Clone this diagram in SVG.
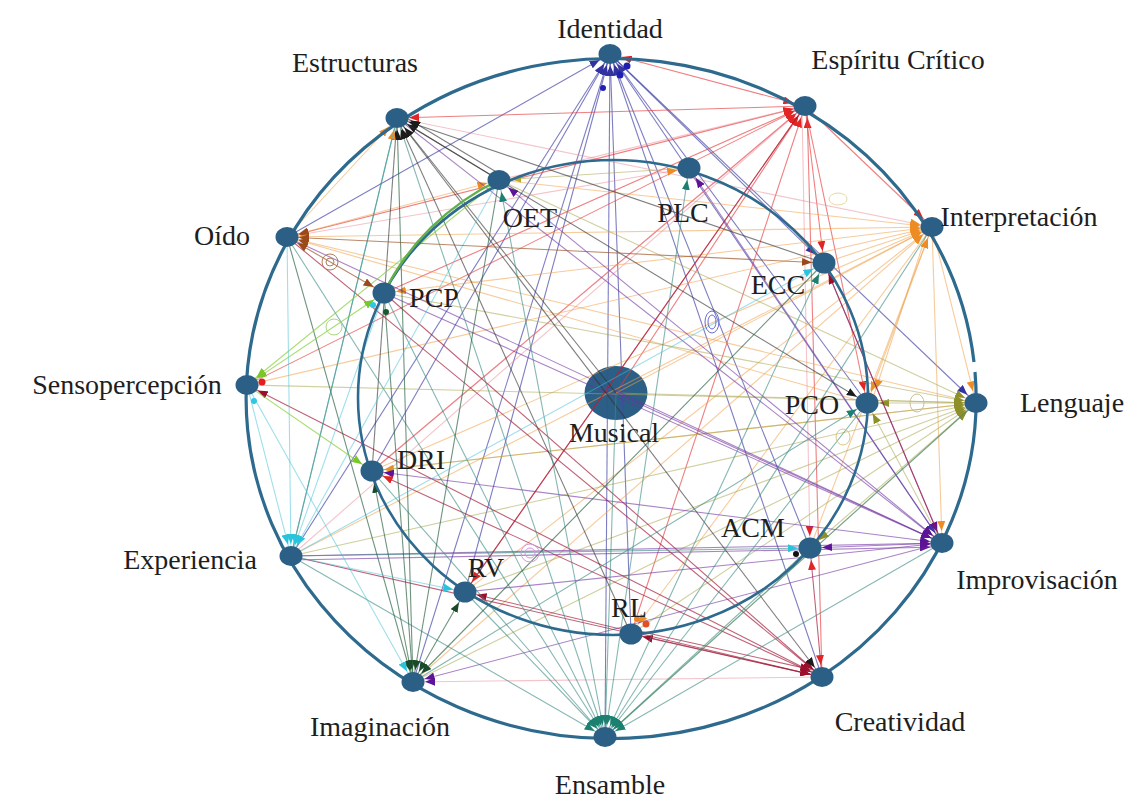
<svg xmlns="http://www.w3.org/2000/svg" width="1130" height="799" viewBox="0 0 1130 799">
<style>
.lbl{font-family:"Liberation Serif","Times New Roman",serif;font-size:28px;fill:#1e1e1e;text-anchor:middle}
.nd{fill:#2b5f86}
.ring{fill:none;stroke:#2d6a8e;stroke-width:3.2}
.iring{fill:none;stroke:#2d6a8e;stroke-width:2.6}
.b{stroke:#4646a8;stroke-opacity:.7}
.r{stroke:#e63a3c;stroke-opacity:.65}
.pk{stroke:#ec8a96;stroke-opacity:.5}
.o{stroke:#f0a048;stroke-opacity:.55}
.ol{stroke:#aaa850;stroke-opacity:.55}
.p{stroke:#7030a0;stroke-opacity:.6}
.dr{stroke:#a01838;stroke-opacity:.68}
.t{stroke:#3a8a82;stroke-opacity:.62}
.dg{stroke:#2a6040;stroke-opacity:.68}
.c{stroke:#40c0d8;stroke-opacity:.5}
.g{stroke:#88d040;stroke-opacity:.75}
.br{stroke:#a05a30;stroke-opacity:.72}
.k{stroke:#303030;stroke-opacity:.62}
.loop{fill:none;stroke-width:1}
</style>
<defs>
<marker id="mb" markerUnits="userSpaceOnUse" markerWidth="30" markerHeight="8" viewBox="0 0 30 8" refX="22" refY="4" orient="auto-start-reverse"><path d="M0,0 L10,4 L0,8 z" fill="#3232a0"/></marker>
<marker id="mr" markerUnits="userSpaceOnUse" markerWidth="30" markerHeight="8" viewBox="0 0 30 8" refX="22" refY="4" orient="auto-start-reverse"><path d="M0,0 L10,4 L0,8 z" fill="#e22424"/></marker>
<marker id="mo" markerUnits="userSpaceOnUse" markerWidth="30" markerHeight="8" viewBox="0 0 30 8" refX="22" refY="4" orient="auto-start-reverse"><path d="M0,0 L10,4 L0,8 z" fill="#ee8c24"/></marker>
<marker id="mol" markerUnits="userSpaceOnUse" markerWidth="30" markerHeight="8" viewBox="0 0 30 8" refX="22" refY="4" orient="auto-start-reverse"><path d="M0,0 L10,4 L0,8 z" fill="#8f8f2a"/></marker>
<marker id="mp" markerUnits="userSpaceOnUse" markerWidth="30" markerHeight="8" viewBox="0 0 30 8" refX="22" refY="4" orient="auto-start-reverse"><path d="M0,0 L10,4 L0,8 z" fill="#5e1496"/></marker>
<marker id="mdr" markerUnits="userSpaceOnUse" markerWidth="30" markerHeight="8" viewBox="0 0 30 8" refX="22" refY="4" orient="auto-start-reverse"><path d="M0,0 L10,4 L0,8 z" fill="#9c0e2c"/></marker>
<marker id="mt" markerUnits="userSpaceOnUse" markerWidth="30" markerHeight="8" viewBox="0 0 30 8" refX="22" refY="4" orient="auto-start-reverse"><path d="M0,0 L10,4 L0,8 z" fill="#1c8070"/></marker>
<marker id="mdg" markerUnits="userSpaceOnUse" markerWidth="30" markerHeight="8" viewBox="0 0 30 8" refX="22" refY="4" orient="auto-start-reverse"><path d="M0,0 L10,4 L0,8 z" fill="#1a4a2a"/></marker>
<marker id="mc" markerUnits="userSpaceOnUse" markerWidth="30" markerHeight="8" viewBox="0 0 30 8" refX="22" refY="4" orient="auto-start-reverse"><path d="M0,0 L10,4 L0,8 z" fill="#28c4dc"/></marker>
<marker id="mg" markerUnits="userSpaceOnUse" markerWidth="30" markerHeight="8" viewBox="0 0 30 8" refX="22" refY="4" orient="auto-start-reverse"><path d="M0,0 L10,4 L0,8 z" fill="#78c828"/></marker>
<marker id="mbr" markerUnits="userSpaceOnUse" markerWidth="30" markerHeight="8" viewBox="0 0 30 8" refX="22" refY="4" orient="auto-start-reverse"><path d="M0,0 L10,4 L0,8 z" fill="#9a4a1a"/></marker>
<marker id="mk" markerUnits="userSpaceOnUse" markerWidth="30" markerHeight="8" viewBox="0 0 30 8" refX="22" refY="4" orient="auto-start-reverse"><path d="M0,0 L10,4 L0,8 z" fill="#1c1c1c"/></marker>
<marker id="my" markerUnits="userSpaceOnUse" markerWidth="30" markerHeight="8" viewBox="0 0 30 8" refX="22" refY="4" orient="auto-start-reverse"><path d="M0,0 L10,4 L0,8 z" fill="#c0a830"/></marker>
</defs>
<rect width="1130" height="799" fill="#ffffff"/>

<g id="node-Musical"><ellipse class="nd" cx="616" cy="393" rx="31.5" ry="27"/></g>

<g id="connectors" fill="none" stroke-width="1.1">
<g class="b" marker-end="url(#mb)">
<line x1="287" y1="237" x2="610" y2="54"/>
<line x1="372" y1="471" x2="610" y2="54"/>
<line x1="413" y1="682" x2="610" y2="54"/>
<line x1="631" y1="634" x2="610" y2="54"/>
<line x1="605" y1="737" x2="610" y2="54"/>
<line x1="822" y1="677" x2="610" y2="54"/>
<line x1="810" y1="548" x2="610" y2="54"/>
<line x1="291" y1="556" x2="610" y2="54"/>
<line x1="867" y1="403" x2="610" y2="54"/>
<line x1="610" y1="54" x2="824" y2="263"/>
<line x1="610" y1="54" x2="976" y2="403"/>
<line x1="610" y1="54" x2="942" y2="543"/>
<line x1="465" y1="592" x2="610" y2="54"/>
</g>
<g class="r" marker-end="url(#mr)">
<line x1="805" y1="106" x2="610" y2="54" marker-start="url(#mr)"/>
<line x1="287" y1="237" x2="805" y2="106"/>
<line x1="384" y1="293" x2="805" y2="106"/>
<line x1="247" y1="385" x2="805" y2="106"/>
<line x1="372" y1="471" x2="805" y2="106"/>
<line x1="465" y1="592" x2="805" y2="106"/>
<line x1="631" y1="634" x2="805" y2="106"/>
<line x1="822" y1="677" x2="807" y2="106"/>
<line x1="616" y1="393" x2="805" y2="106"/>
<line x1="805" y1="106" x2="397" y2="118"/>
<line x1="805" y1="106" x2="824" y2="263"/>
<line x1="805" y1="106" x2="932" y2="227"/>
<line x1="805" y1="106" x2="867" y2="403"/>
</g>
<g class="pk" marker-end="url(#mr)">
<line x1="291" y1="556" x2="805" y2="106"/>
<line x1="499" y1="180" x2="805" y2="106"/>
<line x1="802" y1="106" x2="810" y2="548"/>
<line x1="397" y1="118" x2="932" y2="227" marker-end="url(#mo)"/>
<line x1="689" y1="168" x2="287" y2="237" marker-start="url(#mo)" marker-end="url(#mbr)"/>
<line x1="372" y1="471" x2="805" y2="106"/>
</g>
<g class="o" marker-end="url(#mo)">
<line x1="287" y1="237" x2="932" y2="227" marker-start="url(#mo)"/>
<line x1="384" y1="293" x2="932" y2="227" marker-start="url(#mo)"/>
<line x1="247" y1="385" x2="932" y2="227"/>
<line x1="291" y1="556" x2="932" y2="227"/>
<line x1="372" y1="471" x2="932" y2="227"/>
<line x1="499" y1="180" x2="932" y2="227"/>
<line x1="824" y1="263" x2="932" y2="227"/>
<line x1="932" y1="227" x2="867" y2="403" marker-start="url(#mo)"/>
<line x1="928" y1="229" x2="872" y2="401"/>
<line x1="932" y1="227" x2="942" y2="543"/>
<line x1="932" y1="227" x2="976" y2="403"/>
<line x1="465" y1="592" x2="932" y2="227"/>
<line x1="616" y1="393" x2="932" y2="227"/>
<line x1="413" y1="682" x2="932" y2="227"/>
<line x1="810" y1="548" x2="932" y2="227"/>
<line x1="932" y1="227" x2="631" y2="634"/>
<line x1="867" y1="403" x2="287" y2="237" marker-end="url(#mbr)"/>
<line x1="976" y1="403" x2="287" y2="237" marker-end="url(#mbr)"/>
<line x1="287" y1="237" x2="499" y2="180" marker-start="url(#mbr)"/>
<line x1="287" y1="237" x2="397" y2="118"/>
<line x1="976" y1="403" x2="372" y2="471"/>
</g>
<g class="ol" marker-end="url(#mol)">
<line x1="976" y1="403" x2="867" y2="403"/>
<line x1="291" y1="556" x2="976" y2="403"/>
<line x1="372" y1="471" x2="976" y2="403"/>
<line x1="465" y1="592" x2="976" y2="403"/>
<line x1="631" y1="634" x2="976" y2="403"/>
<line x1="810" y1="548" x2="976" y2="403" marker-start="url(#mol)"/>
<line x1="605" y1="737" x2="976" y2="403"/>
<line x1="413" y1="682" x2="976" y2="403"/>
<line x1="384" y1="293" x2="976" y2="403"/>
<line x1="247" y1="385" x2="976" y2="403"/>
<line x1="616" y1="393" x2="976" y2="403"/>
<line x1="499" y1="180" x2="976" y2="403"/>
<line x1="689" y1="168" x2="499" y2="180" marker-end="url(#my)"/>
<line x1="942" y1="543" x2="867" y2="403" marker-end="url(#mol)"/>
</g>
<g class="p" marker-end="url(#mp)">
<line x1="291" y1="556" x2="942" y2="543"/>
<line x1="291" y1="560" x2="942" y2="547"/>
<line x1="384" y1="293" x2="942" y2="543"/>
<line x1="824" y1="263" x2="942" y2="543"/>
<line x1="372" y1="471" x2="942" y2="543" marker-start="url(#mp)"/>
<line x1="616" y1="393" x2="942" y2="543"/>
<line x1="810" y1="548" x2="942" y2="543" marker-start="url(#mp)"/>
<line x1="499" y1="180" x2="942" y2="543" marker-start="url(#mp)"/>
<line x1="287" y1="237" x2="942" y2="543"/>
<line x1="465" y1="592" x2="942" y2="543"/>
<line x1="942" y1="543" x2="689" y2="168"/>
<line x1="397" y1="118" x2="942" y2="543"/>
<line x1="942" y1="543" x2="413" y2="682"/>
</g>
<g class="dr" marker-end="url(#mdr)">
<line x1="631" y1="634" x2="822" y2="677" marker-start="url(#mdr)"/>
<line x1="634" y1="630" x2="822" y2="672"/>
<line x1="465" y1="592" x2="822" y2="677" marker-start="url(#mdr)"/>
<line x1="372" y1="471" x2="822" y2="677" marker-start="url(#mr)"/>
<line x1="291" y1="556" x2="822" y2="677"/>
<line x1="810" y1="548" x2="822" y2="677" marker-start="url(#mr)" marker-end="url(#mr)"/>
<line x1="384" y1="293" x2="822" y2="677"/>
<line x1="287" y1="237" x2="822" y2="677"/>
<line x1="822" y1="677" x2="247" y2="385"/>
<line x1="942" y1="543" x2="824" y2="263"/>
<line x1="805" y1="106" x2="465" y2="592" marker-end="url(#mr)"/>
</g>
<g class="pk" marker-end="url(#mp)">
<line x1="822" y1="677" x2="413" y2="682"/>
</g>
<g class="k" marker-end="url(#mk)">
<line x1="397" y1="118" x2="822" y2="677"/>
<line x1="499" y1="180" x2="397" y2="118"/>
<line x1="503" y1="176" x2="400" y2="114"/>
<line x1="631" y1="634" x2="397" y2="118"/>
<line x1="824" y1="263" x2="397" y2="118"/>
<line x1="372" y1="471" x2="397" y2="118"/>
<line x1="397" y1="118" x2="867" y2="403"/>
<line x1="616" y1="393" x2="397" y2="118"/>
</g>
<g class="t" marker-end="url(#mt)">
<line x1="397" y1="118" x2="605" y2="737" marker-start="url(#mk)"/>
<line x1="287" y1="237" x2="605" y2="737"/>
<line x1="499" y1="180" x2="605" y2="737" marker-start="url(#mt)"/>
<line x1="384" y1="293" x2="605" y2="737"/>
<line x1="372" y1="471" x2="605" y2="737"/>
<line x1="465" y1="592" x2="605" y2="737"/>
<line x1="291" y1="556" x2="605" y2="737"/>
<line x1="824" y1="263" x2="605" y2="737" marker-start="url(#mt)"/>
<line x1="689" y1="168" x2="605" y2="737" marker-start="url(#mt)"/>
<line x1="867" y1="403" x2="605" y2="737"/>
<line x1="810" y1="548" x2="605" y2="737"/>
<line x1="932" y1="227" x2="605" y2="737"/>
<line x1="616" y1="393" x2="605" y2="737"/>
<line x1="942" y1="543" x2="605" y2="737"/>
<line x1="976" y1="403" x2="605" y2="737"/>
<line x1="413" y1="682" x2="867" y2="403"/>
<line x1="291" y1="556" x2="810" y2="548" marker-end="url(#mc)"/>
</g>
<g class="dg" marker-end="url(#mdg)">
<line x1="372" y1="471" x2="413" y2="682" marker-start="url(#mdg)"/>
<line x1="465" y1="592" x2="413" y2="682" marker-start="url(#mdg)"/>
<line x1="287" y1="237" x2="413" y2="682"/>
<line x1="384" y1="293" x2="413" y2="682"/>
<line x1="499" y1="180" x2="413" y2="682"/>
<line x1="413" y1="682" x2="397" y2="118" marker-end="url(#mk)"/>
<line x1="824" y1="263" x2="413" y2="682"/>
<line x1="291" y1="556" x2="397" y2="118" marker-end="url(#mo)"/>
</g>
<g class="c" marker-end="url(#mc)">
<line x1="247" y1="385" x2="291" y2="556"/>
<line x1="287" y1="237" x2="291" y2="556"/>
<line x1="397" y1="118" x2="291" y2="556"/>
<line x1="499" y1="180" x2="291" y2="556"/>
<line x1="384" y1="293" x2="291" y2="556"/>
<line x1="291" y1="556" x2="465" y2="592"/>
<line x1="291" y1="556" x2="824" y2="263"/>
<line x1="247" y1="385" x2="413" y2="682"/>
</g>
<g class="g" marker-end="url(#mg)">
<line x1="247" y1="385" x2="384" y2="293" marker-start="url(#mg)"/>
<line x1="499" y1="180" x2="247" y2="385"/>
<line x1="247" y1="385" x2="372" y2="471"/>
</g>
<g class="br" marker-end="url(#mbr)">
<line x1="287" y1="237" x2="384" y2="293" marker-start="url(#mbr)"/>
<line x1="287" y1="237" x2="824" y2="263" marker-start="url(#mbr)"/>
</g>
<g class="loop">
<circle cx="330" cy="262" r="8" stroke="#b0805a"/>
<circle cx="330" cy="262" r="4" stroke="#b0805a"/>
<circle cx="334" cy="327" r="8" stroke="#a8d880"/>
<ellipse cx="712" cy="322" rx="7" ry="11" stroke="#6a6ad0"/>
<ellipse cx="712" cy="322" rx="4" ry="7" stroke="#6a6ad0"/>
<circle cx="530" cy="553" r="9" stroke="#d098d8"/>
<circle cx="530" cy="553" r="5" stroke="#d098d8"/>
<ellipse cx="917" cy="403" rx="7" ry="9" stroke="#c8c090"/>
<ellipse cx="843" cy="437" rx="7" ry="8" stroke="#d8c888"/>
<ellipse cx="838" cy="199" rx="9" ry="6" stroke="#e8d8a0"/>
</g>
<g stroke="none">
<circle cx="627" cy="66" r="3.5" fill="#2020b0"/>
<circle cx="620" cy="75" r="3.5" fill="#2020b0"/>
<circle cx="603" cy="88" r="3" fill="#2020b0"/>
<circle cx="386" cy="312" r="3" fill="#145a30"/>
<circle cx="373" cy="305" r="3" fill="#30c8e0"/>
<circle cx="262" cy="382" r="3.5" fill="#e02020"/>
<circle cx="254" cy="401" r="3" fill="#30c8e0"/>
<circle cx="637" cy="619" r="3" fill="#f08020"/>
<circle cx="646" cy="624" r="3.5" fill="#e05020"/>
<circle cx="796" cy="554" r="3" fill="#101010"/>
</g>
</g>

<g id="rings">
<path class="ring" d="M975,372 A365,340 0 1 1 974,362"/>
<ellipse class="iring" cx="613" cy="397.5" rx="255" ry="237.5"/>
<path d="M384,293 A255,237.5 0 0 1 499,180" fill="none" stroke="#62b04a" stroke-width="2.4"/>
</g>

<g id="node-Identidad"><ellipse class="nd" cx="610" cy="54" rx="11.5" ry="10"/><text class="lbl" x="610" y="38">Identidad</text></g>
<g id="node-EspirituCritico"><ellipse class="nd" cx="805" cy="106" rx="11.5" ry="10"/><text class="lbl" x="898" y="69">Espíritu Crítico</text></g>
<g id="node-Interpretacion"><ellipse class="nd" cx="932" cy="227" rx="11.5" ry="10"/><text class="lbl" x="1019" y="226">Interpretación</text></g>
<g id="node-Lenguaje"><ellipse class="nd" cx="976" cy="403" rx="11.5" ry="10"/><text class="lbl" x="1072" y="412">Lenguaje</text></g>
<g id="node-Improvisacion"><ellipse class="nd" cx="942" cy="543" rx="11.5" ry="10"/><text class="lbl" x="1037" y="589">Improvisación</text></g>
<g id="node-Creatividad"><ellipse class="nd" cx="822" cy="677" rx="11.5" ry="10"/><text class="lbl" x="900" y="731">Creatividad</text></g>
<g id="node-Ensamble"><ellipse class="nd" cx="605" cy="737" rx="11.5" ry="10"/><text class="lbl" x="610" y="794">Ensamble</text></g>
<g id="node-Imaginacion"><ellipse class="nd" cx="413" cy="682" rx="11.5" ry="10"/><text class="lbl" x="380" y="736">Imaginación</text></g>
<g id="node-Experiencia"><ellipse class="nd" cx="291" cy="556" rx="11.5" ry="10"/><text class="lbl" x="190" y="569">Experiencia</text></g>
<g id="node-Sensopercepcion"><ellipse class="nd" cx="247" cy="385" rx="11.5" ry="10"/><text class="lbl" x="127" y="394">Sensopercepción</text></g>
<g id="node-Oido"><ellipse class="nd" cx="287" cy="237" rx="11.5" ry="10"/><text class="lbl" x="222" y="245">Oído</text></g>
<g id="node-Estructuras"><ellipse class="nd" cx="397" cy="118" rx="11.5" ry="10"/><text class="lbl" x="355" y="72">Estructuras</text></g>
<g id="node-OET"><ellipse class="nd" cx="499" cy="180" rx="11.5" ry="10"/><text class="lbl" x="530" y="227">OET</text></g>
<g id="node-PLC"><ellipse class="nd" cx="689" cy="168" rx="11.5" ry="10.5"/><text class="lbl" x="683" y="222">PLC</text></g>
<g id="node-ECC"><ellipse class="nd" cx="824" cy="263" rx="11.5" ry="10.5"/><text class="lbl" x="778" y="294">ECC</text></g>
<g id="node-PCP"><ellipse class="nd" cx="384" cy="293" rx="11.5" ry="10.5"/><text class="lbl" x="434" y="307">PCP</text></g>
<g id="node-PCO"><ellipse class="nd" cx="867" cy="403" rx="11.5" ry="10.5"/><text class="lbl" x="812" y="414">PCO</text></g>
<g id="node-DRI"><ellipse class="nd" cx="372" cy="471" rx="11.5" ry="10.5"/><text class="lbl" x="421" y="469">DRI</text></g>
<g id="node-ACM"><ellipse class="nd" cx="810" cy="548" rx="11.5" ry="10.5"/><text class="lbl" x="753" y="537">ACM</text></g>
<g id="node-RV"><ellipse class="nd" cx="465" cy="592" rx="11.5" ry="10.5"/><text class="lbl" x="486" y="577">RV</text></g>
<g id="node-RL"><ellipse class="nd" cx="631" cy="634" rx="11.5" ry="10.5"/><text class="lbl" x="629" y="617">RL</text></g>
<g id="label-Musical"><text class="lbl" x="614" y="442">Musical</text></g>
</svg>
